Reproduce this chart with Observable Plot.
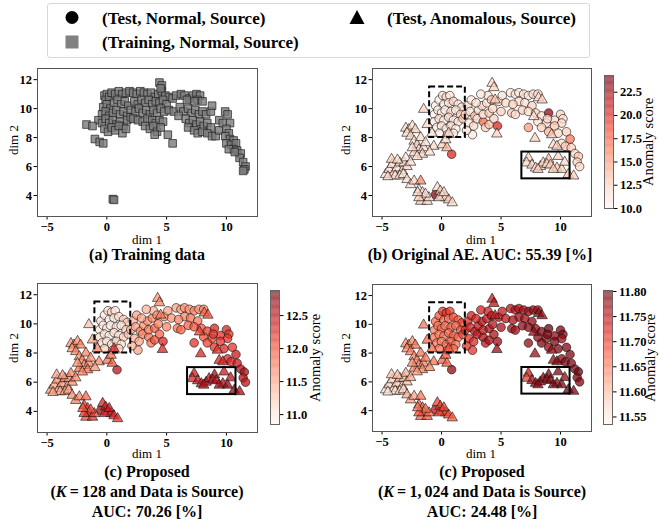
<!DOCTYPE html>
<html><head><meta charset="utf-8">
<script src="https://cdn.jsdelivr.net/npm/d3@7"></script>
<script src="https://cdn.jsdelivr.net/npm/@observablehq/plot@0.6"></script>
<style>
body{margin:0;background:#fff;}
#root{position:relative;width:659px;height:521px;font-family:"Liberation Serif","Times New Roman",serif;color:#000;overflow:hidden;}
#root svg text{font-family:"Liberation Serif","Times New Roman",serif !important;font-weight:bold;}
.t{position:absolute;transform:translate(-50%,-50%);white-space:nowrap;line-height:1;}
.title{font-weight:bold;font-size:16px;}
.axl{font-size:13px;}
.cbl{font-size:14.5px;}
.rot{transform:translate(-50%,-50%) rotate(-90deg);}
.lg{position:absolute;font-weight:bold;font-size:17px;white-space:nowrap;transform:translateY(-50%);line-height:1;}
</style></head><body><div id="root"></div>
<script>
// ---------- data ----------
const trainX = [-0.2,0.0,-0.1,0.2,0.4,0.7,1.0,1.3,1.6,1.9,
 -0.3,0.0,0.3,0.6,0.9,1.2,1.5,1.8,
 -0.4,-0.1,0.2,0.5,0.8,1.1,1.4,1.7,2.0,
 -0.7,-0.4,-0.1,0.2,0.5,0.8,1.1,1.4,1.7,2.0,
 -0.2,0.1,0.4,0.7,1.0,1.3,1.6,
 2.2,2.5,2.8,3.1,3.4,3.7,4.0,4.3,4.6,4.9,5.2,
 4.4,4.6,4.5,
 2.3,2.6,2.9,3.2,3.5,3.8,4.1,4.4,4.7,5.0,
 2.4,2.7,3.0,3.3,3.6,3.9,4.2,4.5,4.8,5.2,5.6,
 2.2,2.6,3.0,3.4,3.8,4.1,4.4,4.7,
 3.2,3.6,3.9,4.2,4.5,4.0,
 5.1,5.5,
 5.5,5.8,6.2,6.5,6.9,7.2,7.5,7.8,7.6,8.0,7.3,6.7,
 6.1,6.4,6.8,7.1,7.4,7.7,8.0,8.3,8.7,8.8,6.0,
 6.6,6.9,7.2,7.5,7.8,8.1,8.4,8.7,6.8,7.3,7.6,8.0,8.4,8.8,9.1,9.4,
 9.4,9.7,9.9,10.1,10.3,10.0,10.2,9.9,10.3,10.6,10.0,10.4,10.8,10.6,10.2,10.9,11.2,11.1,11.4,11.6,11.5,11.4,10.7,
 -1.7,-1.2,-1.0,-0.6,-0.3,0.5,0.6];
const trainY = [10.9,11.0,10.6,10.8,11.1,11.0,11.2,11.0,11.1,11.2,
 10.1,10.3,10.0,10.4,10.6,10.3,10.5,10.2,
 9.6,9.8,9.5,9.7,9.9,9.6,9.8,9.5,9.9,
 9.2,9.0,9.3,9.0,9.2,8.9,9.1,8.8,9.2,9.4,
 8.6,8.4,8.7,8.5,8.8,8.3,8.6,
 11.1,11.0,11.2,11.1,11.0,11.1,10.8,11.0,11.2,10.9,10.8,
 11.8,11.6,11.4,
 10.5,10.3,10.6,10.4,10.6,10.3,10.5,10.4,10.6,10.3,
 9.8,10.0,9.7,9.9,9.6,9.9,9.7,10.0,9.8,9.9,9.8,
 9.3,9.2,9.1,9.3,9.2,9.0,9.2,9.1,
 8.8,8.6,8.8,8.4,8.7,8.2,
 8.2,7.6,
 10.7,10.9,11.0,10.9,10.7,10.9,11.0,10.9,10.6,10.5,10.5,10.6,
 10.1,9.8,10.0,9.7,9.9,9.6,9.8,9.6,9.8,10.2,9.5,
 9.3,9.0,9.2,8.9,9.1,8.8,9.0,8.7,8.7,8.5,8.3,8.4,8.3,8.1,8.1,8.5,
 9.2,9.0,9.8,9.6,9.0,8.6,8.3,8.1,7.9,7.8,7.6,7.5,7.6,7.2,7.2,7.1,6.9,6.6,6.3,6.0,5.8,5.7,7.0,
 8.9,8.8,7.9,7.7,7.6,3.75,3.7];

const normX = [-0.5,-0.2,0.1,0.4,0.7,0.2,0.6,1.0,1.4,1.7,
 -0.6,-0.3,0.0,0.3,0.8,1.2,1.6,-0.6,-0.2,0.2,
 0.6,1.0,1.4,1.8,-0.4,0.0,0.4,0.8,1.2,0.5,
 1.0,-0.2,
 2.2,2.5,2.0,2.4,2.8,3.1,3.4,3.8,2.3,2.7,
 3.0,3.5,3.7,2.6,3.5,4.0,4.3,4.0,4.4,3.9,
 4.8,5.1,5.4,3.3,5.0,4.7,2.9,
 5.8,6.2,6.5,6.9,7.3,7.7,8.1,6.5,7.0,7.6,
 5.9,6.2,6.8,7.3,7.9,8.4,9.0,9.5,10.0,10.2,
 10.1,9.5,8.8,8.1,7.3,8.4,9.0,9.8,10.5,10.8,
 10.1,10.4,10.9,11.2,11.5,11.4,11.6,0.85,-0.5,2.1,
 4.2,6.0,8.9];
const normY = [10.2,10.6,10.9,10.8,10.9,10.3,10.4,10.5,10.3,10.1,
 9.6,9.9,9.7,9.9,9.8,9.9,9.6,9.1,9.3,9.2,
 9.4,9.2,9.1,9.3,8.7,8.8,8.6,8.8,8.6,8.2,
 8.3,8.3,
 10.2,10.6,9.6,9.8,9.5,9.9,10.2,10.4,9.0,8.8,
 9.3,9.1,8.7,8.2,9.6,9.7,10.0,8.9,9.3,10.9,
 10.5,10.9,10.4,11.0,9.8,8.8,10.4,
 11.1,11.0,11.1,11.0,10.9,11.0,11.0,10.5,10.4,10.2,
 9.7,9.6,9.9,9.8,9.7,9.5,9.7,9.2,9.6,9.3,
 9.0,8.8,9.0,9.1,8.7,8.7,8.4,8.3,8.4,7.9,
 7.6,7.4,7.3,6.9,6.7,6.3,6.0,6.85,4.07,8.5,
 10.6,10.3,9.3];
const normScoreB = [10.8,10.5,11.5,12.0,11.0,10.6,11.2,12.5,11.0,11.8,
 10.4,10.7,11.0,10.3,12.0,11.3,12.8,10.9,11.5,10.5,
 12.2,11.0,11.7,13.0,10.6,11.2,10.8,11.9,10.6,11.4,
 10.9,10.7,
 12.0,11.0,12.5,11.3,13.5,11.8,12.3,11.5,11.0,12.0,
 11.5,17.0,12.5,11.0,12.0,13.0,12.0,13.5,12.5,11.5,
 12.0,11.5,12.0,11.2,12.5,20.0,11.5,
 11.0,11.5,11.0,11.8,11.2,12.0,11.5,12.0,11.5,12.5,
 13.0,12.0,12.5,11.8,12.5,11.5,23.0,12.0,12.5,11.5,
 12.0,13.0,12.0,11.5,15.0,12.5,14.0,12.0,12.5,16.5,
 12.0,13.0,12.5,12.0,13.0,12.5,12.0,20.0,23.5,11.5,
 13.0,12.5,12.0];
const normScoreC = [11.1,11.0,11.1,11.2,11.0,10.9,11.0,11.1,11.2,11.3,
 11.0,10.9,11.0,10.9,11.1,11.0,11.2,11.1,11.0,10.9,
 11.1,11.0,11.2,11.3,11.1,11.0,11.1,11.2,11.1,11.3,
 11.2,11.2,
 11.4,11.5,11.4,11.5,11.7,11.6,11.6,11.7,11.4,11.5,
 11.7,11.8,11.8,11.5,11.8,11.9,11.7,12.0,11.9,11.4,
 11.6,11.5,11.6,11.4,11.7,12.3,11.5,
 11.5,11.5,11.6,11.6,11.7,11.6,11.7,11.7,11.8,11.8,
 11.8,11.9,11.9,12.0,12.0,12.1,12.3,12.2,12.3,12.2,
 12.2,12.2,12.1,12.0,12.2,12.1,12.2,12.3,12.2,12.4,
 12.3,12.3,12.4,12.5,12.6,12.5,12.5,12.5,12.6,11.4,
 11.6,11.7,12.2];
const normScoreD = [11.67,11.68,11.70,11.72,11.70,11.67,11.66,11.69,11.68,11.70,
 11.65,11.66,11.67,11.66,11.68,11.67,11.69,11.66,11.65,11.66,
 11.67,11.68,11.67,11.69,11.66,11.65,11.67,11.68,11.66,11.68,
 11.67,11.66,
 11.72,11.73,11.72,11.73,11.74,11.74,11.75,11.74,11.71,11.72,
 11.75,11.76,11.75,11.71,11.75,11.76,11.75,11.76,11.76,11.73,
 11.75,11.74,11.75,11.73,11.76,11.77,11.73,
 11.75,11.76,11.76,11.77,11.77,11.78,11.77,11.77,11.77,11.78,
 11.77,11.77,11.78,11.78,11.78,11.79,11.80,11.78,11.79,11.79,
 11.78,11.79,11.78,11.78,11.78,11.79,11.78,11.79,11.79,11.79,
 11.78,11.79,11.79,11.79,11.80,11.79,11.79,11.78,11.75,11.71,
 11.75,11.76,11.79];

const anomX = [-4.7,-4.4,-4.15,-4.0,-3.75,-3.5,-3.3,-3.15,-3.0,-2.9,-2.6,-4.2,-3.9,-3.5,-3.2,-4.5,-3.7,
 -3.0,-2.75,-2.45,-2.2,-2.9,-2.6,-2.3,-2.05,-1.75,-1.9,-2.3,-1.5,-1.35,-1.6,-2.05,-2.45,-1.5,-1.2,-0.8,-0.65,0.05,0.45,0.35,-1.0,0.6,
 -2.9,-2.6,-2.3,-1.75,-1.9,-1.6,-1.5,-1.75,-1.2,-1.05,-1.35,-1.9,-2.0,
 -0.35,-0.1,0.05,0.35,0.6,0.9,-0.2,0.2,
 4.25,4.4,4.5,4.65,8.15,8.45,7.75,7.85,9.25,9.4,9.7,
 7.3,7.15,7.6,7.9,8.3,8.55,9.0,8.85,9.15,9.8,9.7,10.1,10.35,10.65,11.1,9.4,8.1];
const anomY = [5.45,5.8,6.15,5.55,5.9,6.25,5.7,6.25,6.6,6.0,6.3,6.5,5.35,5.35,5.45,5.3,6.45,
 8.65,8.55,8.8,8.55,8.3,8.1,7.75,7.5,8.0,7.15,6.95,7.3,7.65,6.85,6.7,7.3,9.95,8.9,8.3,7.4,7.5,7.3,7.85,7.0,8.3,
 5.1,4.75,5.0,5.0,4.4,4.2,3.85,3.6,3.6,3.85,4.1,3.85,4.2,
 4.55,4.3,3.95,3.85,3.7,3.5,3.85,4.2,
 11.75,11.45,10.6,8.25,10.75,10.6,9.45,7.95,8.2,7.5,7.4,
 6.6,6.25,6.1,5.9,6.0,6.25,6.5,6.15,6.1,6.7,5.9,5.8,6.3,5.45,5.35,5.8,5.8];
const anomScoreB = [11.5,12.0,11.8,12.5,11.5,12.2,11.7,12.0,11.3,12.3,11.8,12.5,11.6,12.0,11.4,12.2,11.9,
 12.0,12.5,11.8,12.3,11.6,12.2,11.8,12.5,12.0,11.7,12.3,12.0,11.6,12.4,11.8,12.0,12.5,12.2,11.6,12.0,12.5,14.0,11.8,11.7,12.0,
 12.0,11.6,12.3,16.0,12.0,11.7,12.5,13.0,11.8,12.2,11.6,12.8,12.0,
 12.0,12.5,11.8,12.2,13.0,11.7,12.4,11.9,
 12.0,12.5,13.0,12.5,11.8,12.3,12.0,12.5,13.0,12.0,12.5,
 12.5,12.0,12.8,12.2,13.0,12.5,13.5,12.0,12.8,12.3,13.0,12.5,12.0,13.2,12.4,12.7,12.2];
const anomScoreC = [11.6,11.5,11.6,11.5,11.6,11.7,11.5,11.6,11.7,11.6,11.7,11.5,11.5,11.6,11.5,11.5,11.6,
 11.6,11.7,11.6,11.7,11.6,11.7,11.6,11.7,11.7,11.6,11.8,11.7,11.6,11.8,11.7,11.6,11.3,11.5,11.7,11.7,11.8,12.0,11.8,11.6,12.3,
 11.6,11.7,11.7,11.9,12.1,12.2,12.3,12.0,12.2,12.1,12.0,12.2,12.0,
 12.3,12.4,12.3,12.4,12.3,12.2,12.3,12.4,
 11.6,11.7,11.8,12.3,11.9,12.0,12.1,12.3,12.2,12.3,12.3,
 12.4,12.3,12.5,12.5,12.6,12.5,12.6,12.5,12.6,12.4,12.6,12.7,12.5,12.7,12.6,12.6,12.5];
const anomScoreD = [11.57,11.58,11.58,11.57,11.59,11.60,11.58,11.60,11.61,11.60,11.62,11.59,11.57,11.58,11.58,11.56,11.60,
 11.64,11.65,11.64,11.66,11.64,11.65,11.64,11.65,11.66,11.64,11.65,11.65,11.66,11.65,11.63,11.64,11.66,11.67,11.67,11.66,11.67,11.68,11.68,11.65,11.68,
 11.62,11.63,11.62,11.66,11.67,11.68,11.68,11.67,11.68,11.67,11.66,11.69,11.66,
 11.70,11.70,11.69,11.70,11.69,11.68,11.70,11.70,
 11.74,11.75,11.75,11.77,11.78,11.78,11.78,11.77,11.78,11.78,11.79,
 11.74,11.70,11.77,11.78,11.78,11.79,11.79,11.78,11.79,11.79,11.79,11.79,11.78,11.80,11.79,11.79,11.78];

const xTicks = [-5, 0, 5, 10];
const yTicks = [4, 6, 8, 10, 12];
const dashBoxX = [-1, 2], dashBoxY = [8, 11.5];
const solidBoxX = [6.75, 10.8], solidBoxY = [5.15, 7.0];
const cbDomainB = [10.0, 24.3], cbTicksB = [10, 12.5, 15, 17.5, 20, 22.5];
const cbDomainC = [10.85, 12.88], cbTicksC = [11.0, 11.5, 12.0, 12.5];
const cbDomainD = [11.535, 11.802], cbTicksD = [11.55, 11.60, 11.65, 11.70, 11.75, 11.80];
const legendLabels = ["(Test, Normal, Source)", "(Test, Anomalous, Source)", "(Training, Normal, Source)"];

// ---------- build ----------
const root = document.getElementById("root");
const FONT = '"Liberation Serif","Times New Roman",serif';
const xDom = [-5.8, 12.6], yDom = [2.55, 12.77];
const fmtX = d => d < 0 ? "\u2212" + (-d) : String(d);

const train = trainX.map((x, i) => ({x, y: trainY[i]}));
const normal = normX.map((x, i) => ({x, y: normY[i], b: normScoreB[i], c: normScoreC[i], d: normScoreD[i]}));
const anom = anomX.map((x, i) => ({x, y: anomY[i], b: anomScoreB[i], c: anomScoreC[i], d: anomScoreD[i]}));
const dashBoxes = [{x1: dashBoxX[0], x2: dashBoxX[1], y1: dashBoxY[0], y2: dashBoxY[1]}];
const solidBoxes = [{x1: solidBoxX[0], x2: solidBoxX[1], y1: solidBoxY[0], y2: solidBoxY[1]}];

function place(el, left, top) {
  el.style.position = "absolute"; el.style.left = left + "px"; el.style.top = top + "px";
  root.appendChild(el); return el;
}
function text(str, cx, cy, cls, rot) {
  const d = document.createElement("div");
  d.className = "t " + cls + (rot ? " rot" : "");
  d.style.left = cx + "px"; d.style.top = cy + "px";
  d.innerHTML = str; root.appendChild(d); return d;
}

function scatter(o) {
  return Plot.plot({
    width: o.w, height: o.h, marginLeft: o.ml, marginTop: o.mt, marginRight: o.mr, marginBottom: o.mb,
    x: {domain: xDom, ticks: xTicks, tickSize: 3.5, tickPadding: 2, label: null, tickFormat: fmtX},
    y: {domain: yDom, ticks: yTicks, tickSize: 3.5, tickPadding: 2, label: null},
    color: o.color,
    style: {fontFamily: FONT, fontSize: "12.5px", fontWeight: "bold", color: "#000", background: "transparent", overflow: "visible"},
    marks: [Plot.frame({stroke: "#555", strokeWidth: 1}), ...o.marks]
  });
}
function testMarks(key) {
  return [
    Plot.dot(normal, {x: "x", y: "y", fill: key, r: 4.3, stroke: "#111", strokeWidth: 0.8, fillOpacity: 0.75, strokeOpacity: 0.75}),
    Plot.dot(anom, {x: "x", y: "y", fill: key, symbol: "triangle", r: 3.9, stroke: "#111", strokeWidth: 0.8, fillOpacity: 0.75, strokeOpacity: 0.75}),
    Plot.rect(dashBoxes, {x1: "x1", x2: "x2", y1: "y1", y2: "y2", fill: "none", stroke: "#000", strokeWidth: 2, strokeDasharray: "6,3"}),
    Plot.rect(solidBoxes, {x1: "x1", x2: "x2", y1: "y1", y2: "y2", fill: "none", stroke: "#000", strokeWidth: 2})
  ];
}
function colorbar(dom, ticks, fmt, h) {
  const [lo, hi] = dom, n = 150;
  const stops = d3.range(n).map(i => ({y1: lo + (hi - lo) * i / n, y2: lo + (hi - lo) * (i + 1.02) / n, v: lo + (hi - lo) * (i + 0.5) / n}));
  return Plot.plot({
    width: 62, height: h, marginLeft: 2, marginRight: 51, marginTop: 5, marginBottom: 5,
    x: {domain: [0, 1], axis: null}, y: {domain: dom, axis: null},
    color: {type: "linear", scheme: "reds", domain: dom},
    style: {fontFamily: FONT, fontSize: "12.5px", fontWeight: "bold", color: "#000", background: "transparent", overflow: "visible"},
    marks: [
      Plot.rect(stops, {x1: 0, x2: 1, y1: "y1", y2: "y2", fill: "v", fillOpacity: 0.75}),
      Plot.frame({stroke: "#666", strokeWidth: 1}),
      Plot.axisY({anchor: "right", ticks, tickFormat: fmt, tickSize: 3.5, tickPadding: 3})
    ]
  });
}

// Legend
const lg = document.createElement("div");
lg.style.cssText = "position:absolute;left:47px;top:3px;width:541px;height:53px;border:1px solid #d8d8d8;border-radius:3px;";
root.appendChild(lg);
const sym = document.createElementNS("http://www.w3.org/2000/svg", "svg");
sym.setAttribute("width", 659); sym.setAttribute("height", 60);
sym.style.cssText = "position:absolute;left:0;top:0;";
sym.innerHTML = '<circle cx="72" cy="17.5" r="6.5" fill="#000"/>' +
  '<rect x="65.5" y="35.5" width="13" height="13" fill="#808080"/>' +
  '<path d="M357,10 L364.5,24 L349.5,24 Z" fill="#000"/>';
root.appendChild(sym);
[[legendLabels[0], 102, 17.5], [legendLabels[1], 387, 17.5], [legendLabels[2], 102, 42]].forEach(([s, x, y]) => {
  const d = document.createElement("div"); d.className = "lg"; d.style.left = x + "px"; d.style.top = y + "px"; d.textContent = s; root.appendChild(d);
});

// Panel (a)
place(scatter({w: 265, h: 175, ml: 37, mt: 8, mr: 8, mb: 19, color: undefined,
  marks: [Plot.dot(train, {x: "x", y: "y", symbol: "square", r: 4.3, fill: "#7a7a7a", fillOpacity: 0.8, stroke: "#222", strokeWidth: 0.9, strokeOpacity: 0.8})]}), 0, 60);
text("dim 1", 147, 238.5, "axl");
text("dim 2", 13, 140, "axl", true);
text("(a) Training data", 147, 254.5, "title");

// Panel (b)
place(scatter({w: 270, h: 175, ml: 42, mt: 8, mr: 9, mb: 19,
  color: {type: "linear", scheme: "reds", domain: cbDomainB}, marks: testMarks("b")}), 330, 60);
place(colorbar(cbDomainB, cbTicksB, d3.format(".1f"), 143), 602, 70);
text("dim 1", 481, 238.5, "axl");
text("dim 2", 345, 140, "axl", true);
text("Anomaly score", 648, 142, "cbl", true);
text("(b) Original AE. AUC: 55.39 [%]", 480, 254.5, "title");

// Panel (c)
place(scatter({w: 265, h: 176, ml: 37, mt: 8, mr: 8, mb: 19,
  color: {type: "linear", scheme: "reds", domain: cbDomainC}, marks: testMarks("c")}), 0, 275);
place(colorbar(cbDomainC, cbTicksC, d3.format(".1f"), 144), 268, 285);
text("dim 1", 147, 453, "axl");
text("dim 2", 13, 348, "axl", true);
text("Anomaly score", 315, 358, "cbl", true);
text("(c) Proposed", 147, 472, "title");
text("(<i>K</i>&thinsp;=&thinsp;128 and Data is Source)", 147, 492, "title");
text("AUC: 70.26 [%]", 147, 512, "title");

// Panel (d)
place(scatter({w: 270, h: 175, ml: 42, mt: 8, mr: 9, mb: 20,
  color: {type: "linear", scheme: "reds", domain: cbDomainD}, marks: testMarks("d")}), 330, 276);
place(colorbar(cbDomainD, cbTicksD, d3.format(".2f"), 144), 601, 285);
text("dim 1", 481, 453, "axl");
text("dim 2", 345, 348, "axl", true);
text("Anomaly score", 650, 358, "cbl", true);
text("(c) Proposed", 482, 472, "title");
text("(<i>K</i>&thinsp;=&thinsp;1,&thinsp;024 and Data is Source)", 482, 492, "title");
text("AUC: 24.48 [%]", 482, 512, "title");
</script></body></html>
